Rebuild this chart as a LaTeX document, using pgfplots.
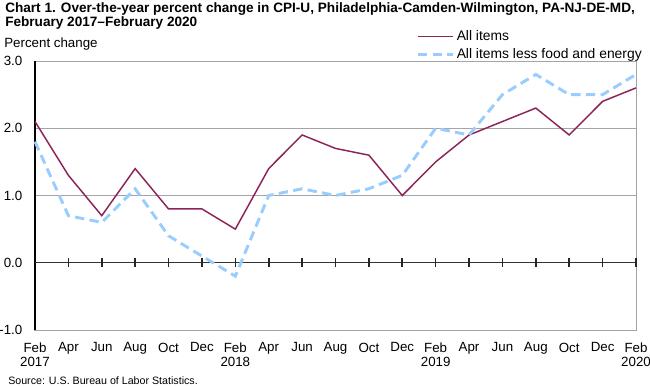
\documentclass[border=0pt]{standalone}
\usepackage{fontspec}
\setmainfont{Liberation Sans}
\usepackage{pgfplots}
\pgfplotsset{compat=1.18}
\definecolor{maroon}{RGB}{140,36,88}
\definecolor{lblue}{RGB}{153,204,255}
\definecolor{gridg}{RGB}{165,165,165}
\pgfplotstableread{
x all core
0 2.1 1.8
1 1.3 0.7
2 0.7 0.6
3 1.4 1.1
4 0.8 0.4
5 0.8 0.1
6 0.5 -0.2
7 1.4 1.0
8 1.9 1.1
9 1.7 1.0
10 1.6 1.1
11 1.0 1.3
12 1.5 2.0
13 1.9 1.9
14 2.1 2.5
15 2.3 2.8
16 1.9 2.5
17 2.4 2.5
18 2.6 2.8
}\datatable
\begin{document}
\begin{tikzpicture}[x=0.75pt,y=0.75pt]
\useasboundingbox (-35,-56) rectangle (615,330);
\node[anchor=base west,inner sep=0pt,font=\bfseries\fontsize{10.2}{12}\selectfont] at (-30,317) {Chart 1. Over-the-year percent change in CPI-U, Philadelphia-Camden-Wilmington, PA-NJ-DE-MD,};
\node[anchor=base west,inner sep=0pt,font=\bfseries\fontsize{10.2}{12}\selectfont] at (-30,303) {February 2017–February 2020};
\node[anchor=base west,inner sep=0pt,font=\fontsize{10}{12}\selectfont] at (-31,282) {Percent change};
\node[anchor=base west,inner sep=0pt,font=\fontsize{8}{9}\selectfont] at (-27,-54) {Source: U.S. Bureau of Labor Statistics.};
\begin{axis}[at={(0,0)}, anchor=south west, scale only axis,
  width=450.75pt, height=201.75pt,
  xmin=0, xmax=18, ymin=-1, ymax=3, clip=false,
  ytick={-1,1,2,3}, extra y ticks={0}, extra y tick style={grid=none},
  xtick={0,...,18},
  xticklabels={{Feb\\2017},Apr,Jun,Aug,Oct,Dec,{Feb\\2018},Apr,Jun,Aug,Oct,Dec,{Feb\\2019},Apr,Jun,Aug,Oct,Dec,{Feb\\2020}},
  xticklabel style={align=center, anchor=north, yshift=-6pt, font=\fontsize{10}{10.5}\selectfont},
  yticklabel style={font=\fontsize{10}{12}\selectfont, xshift=-6pt},
  /pgf/number format/.cd, fixed, fixed zerofill, precision=1, assume math mode=true, /pgfplots/.cd,
  axis line style={gridg, line width=0.75pt},
  ymajorgrids, grid style={gridg, line width=0.75pt},
  major tick length=0pt,
  legend style={at={(1,1)}, anchor=south east, draw=none, fill=none,
    font=\fontsize{10.4}{12}\selectfont, inner sep=0pt, row sep=0.5pt, yshift=-1.8pt, xshift=6.5pt},
  legend cell align=left,
  legend image code/.code={\draw[#1] (0pt,0pt) -- (26pt,0pt);}]
\draw[black, line width=1.1pt] (rel axis cs:0,0) -- (rel axis cs:0,1);
\draw[black!80, line width=0.9pt] (axis cs:0,0) -- (axis cs:18,0);
\addplot[black!85, line width=1.2pt, ycomb, mark=none, forget plot] coordinates {(1,0.07) (2,0.07) (3,0.07) (4,0.07) (5,0.07) (6,0.07) (7,0.07) (8,0.07) (9,0.07) (10,0.07) (11,0.07) (12,0.07) (13,0.07) (14,0.07) (15,0.07) (16,0.07) (17,0.07) (18,0.07)};
\addplot[black!85, line width=1.2pt, ycomb, mark=none, forget plot] coordinates {(1,-0.07) (2,-0.07) (3,-0.07) (4,-0.07) (5,-0.07) (6,-0.07) (7,-0.07) (8,-0.07) (9,-0.07) (10,-0.07) (11,-0.07) (12,-0.07) (13,-0.07) (14,-0.07) (15,-0.07) (16,-0.07) (17,-0.07) (18,-0.07)};
\addplot[maroon, line width=1.1pt] table[x=x, y=all] {\datatable};
\addlegendentry{All items}
\addplot[lblue, line width=2.2pt, dash pattern=on 7pt off 4pt] table[x=x, y=core] {\datatable};
\addlegendentry{All items less food and energy}
\end{axis}
\end{tikzpicture}
\end{document}
